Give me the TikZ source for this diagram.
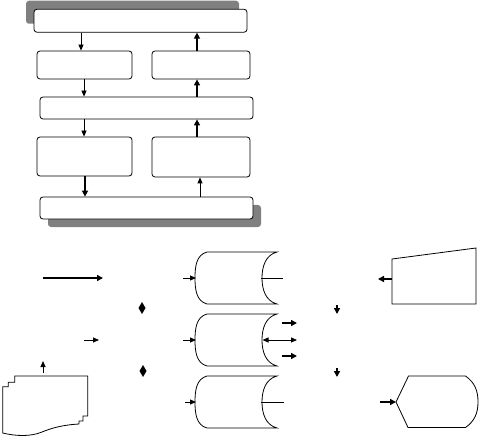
\documentclass[tikz,border=0pt]{standalone}
\usepackage{tikz}
\usetikzlibrary{arrows.meta,shadows}

\tikzset{
  blk/.style={draw, line width=0.8pt, rounded corners=3pt, fill=white, inner sep=0pt},
  outl/.style={line width=0.8pt},
  thin arr/.style={-{Triangle[length=6pt,width=5pt]}, line width=0.8pt},
  thick arr/.style={-{Triangle[length=6pt,width=6pt]}, line width=1.6pt},
  both arr/.style={{Triangle[length=6pt,width=5pt]}-{Triangle[length=6pt,width=5pt]}, line width=0.8pt},
  shadeup/.style={drop shadow={shadow xshift=-8pt, shadow yshift=8.5pt, fill=black!50, opacity=1}},
  shadedown/.style={drop shadow={shadow xshift=8pt, shadow yshift=-8pt, fill=black!50, opacity=1}}
}

\begin{document}
\begin{tikzpicture}[x=1pt, y=-1pt]
\useasboundingbox (0,0) rectangle (481,438);
% upper block
\node[blk, shadeup, minimum width=213pt, minimum height=23pt] (toprow) at (140.5,20.75) {};
\node[blk, minimum width=95pt, minimum height=28pt] (leftA) at (84.5,65) {};
\node[blk, minimum width=98pt, minimum height=28pt] (rightA) at (201,65) {};
\node[blk, minimum width=213pt, minimum height=22pt] (midrow) at (146.5,108) {};
\node[blk, minimum width=95pt, minimum height=39pt] (leftB) at (84.5,156.5) {};
\node[blk, minimum width=98pt, minimum height=40pt] (rightB) at (201,157) {};
\node[blk, shadedown, minimum width=213pt, minimum height=22pt] (botrow) at (146.5,208) {};
\draw[thin arr] (81,0 |- toprow.south) -- (81,0 |- leftA.north);
\draw[thick arr] (197,0 |- rightA.north) -- (197,0 |- toprow.south);
\draw[thin arr] (84,0 |- leftA.south) -- (84,0 |- midrow.north);
\draw[thick arr] (197,0 |- midrow.north) -- (197,0 |- rightA.south);
\draw[thin arr] (84,0 |- midrow.south) -- (84,0 |- leftB.north);
\draw[thick arr] (197,0 |- rightB.north) -- (197,0 |- midrow.south);
\draw[thick arr] (85,0 |- leftB.south) -- (85,0 |- botrow.north);
\draw[thin arr] (200,0 |- botrow.north) -- (200,0 |- rightB.south);
% lower part
\foreach \cy in {278,340,402}
  \draw[outl] (207,\cy-26) -- (277,\cy-26) to[out=195,in=90] (262,\cy) to[out=-90,in=165] (277,\cy+26)
    -- (207,\cy+26) to[out=165,in=-90] (195,\cy) to[out=90,in=195] (207,\cy-26);
\coordinate (inA) at (183,278);
\coordinate (inB) at (183,340);
\coordinate (inC) at (185,402);
\draw[thin arr] (inA) -- (196,278);
\draw[thin arr] (inB) -- (196,340);
\draw[thin arr] (inC) -- (196,402);
\draw[outl] (261,278) -- (283,278);
\draw[outl] (261,402) -- (284,402);
\draw[both arr] (262.5,340) -- (297,340);
\draw[thick arr] (282,323) -- (297,323);
\draw[thick arr] (282,356) -- (297,356);
% left side
\coordinate (feedA) at (43,278);
\draw[thick arr] (feedA) -- (103,278);
\coordinate (feedB) at (84,340);
\draw[thin arr] (feedB) -- (99,340);
\fill (142,302) -- (145.5,308) -- (142,314) -- (138.5,308) -- cycle;
\fill (143,365) -- (146.5,371) -- (143,377) -- (139.5,371) -- cycle;
\draw[outl] (14.7,376) -- (87.7,376) -- (87.7,416) -- (83,416) -- (83,421) -- (79,421) -- (79,424)
  .. controls (62,425) and (52,428) .. (42,432) .. controls (30,437) and (15,436) .. (2.7,433)
  -- (2.7,386.7) -- (8.3,386.7) -- (8.3,382.3) -- (14.7,382.3) -- cycle;
\draw[thin arr] (43,373) -- (43,361);
% right side
\draw[outl] (392,259) -- (476,248) -- (476,304) -- (392,304) -- cycle;
\draw[thick arr] (392,279) -- (378,279);
\draw[thick arr] (337,305) -- (337,314);
\draw[thick arr] (337,368) -- (337,377);
\draw[outl] (396,402) -- (408.5,376) -- (465.5,376) to[out=-35,in=90] (478,402) to[out=-90,in=35] (465.5,427.5)
  -- (408,427.5) -- cycle;
\draw[thick arr] (380,402) -- (396,402);
\end{tikzpicture}
\end{document}
